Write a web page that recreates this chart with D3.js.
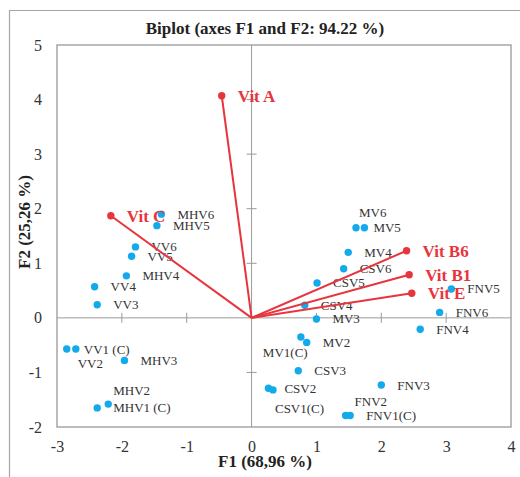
<!DOCTYPE html>
<html>
<head>
<meta charset="utf-8">
<script src="https://cdn.jsdelivr.net/npm/d3@7"></script>
<style>
  body { margin: 0; background: #fff; }
  text { font-family: "Liberation Serif", "Times New Roman", serif; }
</style>
</head>
<body>
<div id="chart"></div>
<script>
// observations (blue points)
const obsNames = ["MHV6","MHV5","VV6","VV5","MHV4","VV4","VV3",
  "MV6","MV5","MV4","CSV6","CSV5","FNV5","CSV4","FNV6","MV3","FNV4",
  "MV1(C)","MV2","CSV3","CSV2","CSV1(C)","FNV3","FNV2","FNV1(C)",
  "VV1 (C)","VV2","MHV3","MHV2","MHV1 (C)"]
const obsF1 = [-1.39,-1.46,-1.79,-1.85,-1.93,-2.42,-2.38,
  1.61,1.74,1.49,1.42,1.01,3.08,0.82,2.90,1.00,2.60,
  0.76,0.85,0.72,0.26,0.33,2.00,1.45,1.52,
  -2.71,-2.85,-1.96,-2.21,-2.38]
const obsF2 = [1.90,1.69,1.30,1.13,0.77,0.57,0.24,
  1.65,1.65,1.20,0.90,0.64,0.53,0.23,0.10,-0.02,-0.21,
  -0.35,-0.45,-0.97,-1.29,-1.32,-1.23,-1.79,-1.79,
  -0.57,-0.57,-0.78,-1.58,-1.65]

// variables (red vectors)
const varNames = ["Vit A","Vit C","Vit B6","Vit B1","Vit E"]
const varF1 = [-0.46,-2.17,2.39,2.43,2.47]
const varF2 = [4.07,1.87,1.23,0.79,0.45]

const xTicks = [-3,-2,-1,0,1,2,3,4]
const yTicks = [-2,-1,0,1,2,3,4,5]

// label placement tweaks (px), default is right of the dot
const labelShift = {
  "MV6": [3,-15], "MV1(C)": [-38,15], "VV2": [11,14], "VV1 (C)": [8,0],
  "CSV1(C)": [2,19], "FNV2": [9,-14], "MHV2": [5,-14], "MV5": [9,0]
}

window.onload = function(){ setup() }

function setup(){
  const W = 520, H = 477
  const svg = d3.select("#chart").append("svg")
    .attr("width", W).attr("height", H)

  const x = d3.scaleLinear().domain([-3,4]).range([57,511])
  const y = d3.scaleLinear().domain([-2,5]).range([427,45])

  // chart frame
  svg.append("path")
    .attr("d", `M9.5,${H} V10.5 H${W}`)
    .attr("fill","none").attr("stroke","#a6a6a6").attr("stroke-width",1.2)

  svg.append("text")
    .attr("x", 265).attr("y", 28).attr("dy","0.35em")
    .attr("text-anchor","middle").attr("font-weight","bold")
    .attr("font-size", 17).attr("fill","#222")
    .text("Biplot (axes F1 and F2: 94.22 %)")

  // plot border
  svg.append("rect")
    .attr("x", x(-3)).attr("y", y(5))
    .attr("width", x(4)-x(-3)).attr("height", y(-2)-y(5))
    .attr("fill","none").attr("stroke","#a6a6a6").attr("stroke-width",1.5)

  // zero lines with cross ticks
  svg.append("line")
    .attr("x1", x(-3)).attr("x2", x(4)).attr("y1", y(0)).attr("y2", y(0))
    .attr("stroke","#9a9a9a").attr("stroke-width",1)
  svg.append("line")
    .attr("x1", x(0)).attr("x2", x(0)).attr("y1", y(5)).attr("y2", y(-2))
    .attr("stroke","#9a9a9a").attr("stroke-width",1)

  svg.selectAll(".xt").data(xTicks.filter(d => d>-3 && d<4 && d!=0)).join("line")
    .attr("x1", d => x(d)).attr("x2", d => x(d))
    .attr("y1", y(0)-5).attr("y2", y(0)+5)
    .attr("stroke","#9a9a9a")
  svg.selectAll(".yt").data(yTicks.filter(d => d>-2 && d<5 && d!=0)).join("line")
    .attr("x1", x(0)-5).attr("x2", x(0)+5)
    .attr("y1", d => y(d)).attr("y2", d => y(d))
    .attr("stroke","#9a9a9a")

  // tick labels
  const fmt = d => String(d)
  const xAxis = svg.append("g")
    .attr("transform", `translate(0,${y(-2)})`)
    .call(d3.axisBottom(x).tickValues(xTicks).tickFormat(fmt).tickSize(0).tickPadding(14))
  const yAxis = svg.append("g")
    .attr("transform", `translate(${x(-3)},0)`)
    .call(d3.axisLeft(y).tickValues(yTicks).tickFormat(fmt).tickSize(0).tickPadding(15))
  ;[xAxis, yAxis].forEach(g => {
    g.attr("font-family", null)
    g.select(".domain").remove()
    g.selectAll("text")
      .style("font-family", "'Liberation Serif', serif")
      .attr("font-size", 16).attr("fill","#333")
  })

  svg.append("text")
    .attr("x", 265).attr("y", 461).attr("dy","0.35em")
    .attr("text-anchor","middle").attr("font-weight","bold")
    .attr("font-size", 17).attr("fill","#222")
    .text("F1 (68,96 %)")
  svg.append("text")
    .attr("transform", "translate(24,222) rotate(-90)")
    .attr("dy","0.35em")
    .attr("text-anchor","middle").attr("font-weight","bold")
    .attr("font-size", 17).attr("fill","#222")
    .text("F2 (25,26 %)")

  // observations
  const obs = obsNames.map((n,i) => ({name:n, f1:obsF1[i], f2:obsF2[i]}))
  svg.selectAll(".obs").data(obs).join("circle")
    .attr("cx", d => x(d.f1)).attr("cy", d => y(d.f2))
    .attr("r", 3.7).attr("fill","#12aaea")
  svg.selectAll(".obsl").data(obs).join("text")
    .attr("x", d => x(d.f1) + (labelShift[d.name] ? labelShift[d.name][0] : 16))
    .attr("y", d => y(d.f2) + (labelShift[d.name] ? labelShift[d.name][1] : 0))
    .attr("dy","0.35em")
    .attr("font-size", 13).attr("fill","#333")
    .text(d => d.name)

  // vectors
  const vars = varNames.map((n,i) => ({name:n, f1:varF1[i], f2:varF2[i]}))
  const red = "#e8343c"
  svg.selectAll(".vec").data(vars).join("line")
    .attr("x1", x(0)).attr("y1", y(0))
    .attr("x2", d => x(d.f1)).attr("y2", d => y(d.f2))
    .attr("stroke", red).attr("stroke-width", 2)
  svg.selectAll(".vecp").data(vars).join("circle")
    .attr("cx", d => x(d.f1)).attr("cy", d => y(d.f2))
    .attr("r", 3.7).attr("fill", red)
  svg.selectAll(".vecl").data(vars).join("text")
    .attr("x", d => x(d.f1) + 16).attr("y", d => y(d.f2))
    .attr("dy","0.35em")
    .attr("font-size", 17).attr("font-weight","bold").attr("fill", red)
    .text(d => d.name)
}
</script>
</body>
</html>
